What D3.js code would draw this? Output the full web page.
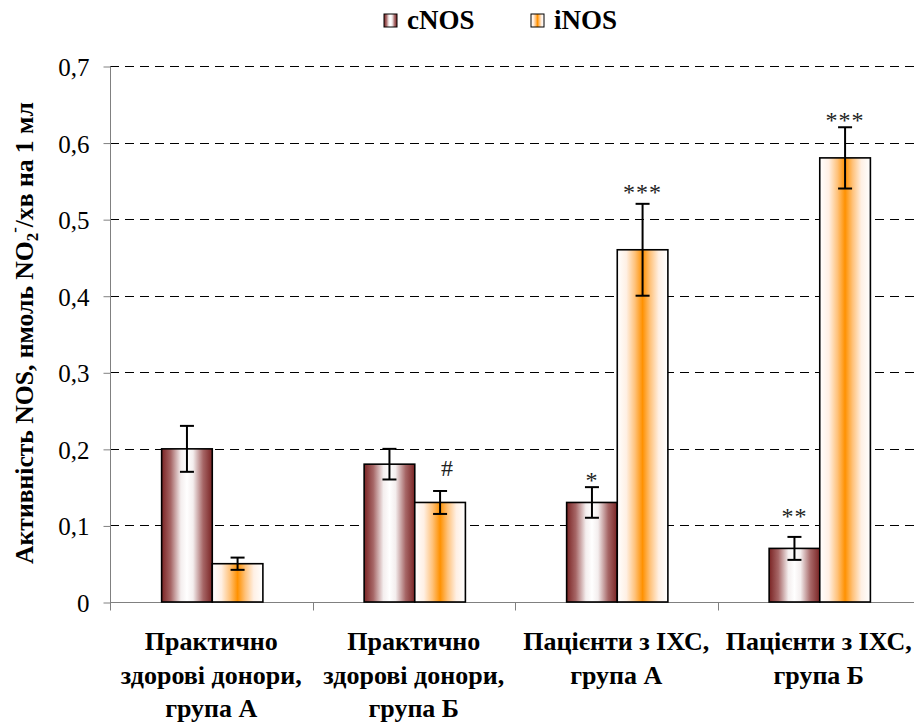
<!DOCTYPE html>
<html><head><meta charset="utf-8">
<script src="https://cdn.jsdelivr.net/npm/d3@7"></script>
<style>
html,body{margin:0;padding:0;background:#fff;}
svg{display:block;}
</style></head>
<body>
<svg id="chart" width="914" height="722" font-family="Liberation Serif, Times New Roman, serif"></svg>
<script>
// ---- data ----
const categories = [
  ["Практично", "здорові донори,", "група А"],
  ["Практично", "здорові донори,", "група Б"],
  ["Пацієнти з ІХС,", "група А"],
  ["Пацієнти з ІХС,", "група Б"]
];
const seriesNames = ["cNOS", "iNOS"];
const cNOS = [0.20, 0.18, 0.13, 0.07];
const iNOS = [0.05, 0.13, 0.46, 0.58];
const cNOSErr = [0.03, 0.02, 0.02, 0.015];
const iNOSErr = [0.008, 0.015, 0.06, 0.04];
const cNOSMark = ["", "", "*", "**"];
const iNOSMark = ["", "#", "***", "***"];
const cNOSMarkY = [null, null, 0.149, 0.102];
const iNOSMarkY = [null, 0.164, 0.525, 0.619];
const yTicks = [0, 0.1, 0.2, 0.3, 0.4, 0.5, 0.6, 0.7];
const yTickLabels = ["0", "0,1", "0,2", "0,3", "0,4", "0,5", "0,6", "0,7"];

(function(){
const FONT = "Liberation Serif";
const svg = d3.select("#chart");
const defs = svg.append("defs");
function grad(id, stops){
  const g = defs.append("linearGradient").attr("id", id)
    .attr("x1","0").attr("x2","1").attr("y1","0").attr("y2","0");
  stops.forEach(s => g.append("stop").attr("offset", s[0]).attr("stop-color", s[1]));
}
grad("gC", [[0,"#7a2424"],[0.18,"#a66666"],[0.38,"#f4eeee"],[0.5,"#ffffff"],[0.62,"#f4eeee"],[0.82,"#a66666"],[1,"#7a2424"]]);
grad("gI", [[0,"#ffffff"],[0.18,"#fff0e4"],[0.35,"#ffc27a"],[0.5,"#ff9100"],[0.65,"#ffc27a"],[0.82,"#fff0e4"],[1,"#ffffff"]]);
const fills = {cNOS: "url(#gC)", iNOS: "url(#gI)"};

const pL = 110, pR = 920, pT = 66, pB = 602;
const y = d3.scaleLinear().domain([0, 0.7]).range([pB, pT]);
const x0 = d3.scaleBand().domain(d3.range(categories.length)).range([pL, pR]).padding(0);
const bw = x0.bandwidth();
const x1 = d3.scaleBand().domain(seriesNames).range([bw*0.255, bw*0.755]).padding(0);

// gridlines
svg.append("g").selectAll("line").data(yTicks.filter(d => d > 0)).join("line")
  .attr("x1", pL).attr("x2", pR)
  .attr("y1", d => Math.round(y(d)) + 0.5).attr("y2", d => Math.round(y(d)) + 0.5)
  .attr("stroke", "#000").attr("stroke-width", 1).attr("stroke-dasharray", "9,6");

// y axis
const yAxis = d3.axisLeft(y).tickValues(yTicks).tickFormat((d,i) => yTickLabels[i]).tickSize(7).tickPadding(14);
const gy = svg.append("g").attr("transform", `translate(${pL + 0.5},0.5)`).call(yAxis)
  .attr("font-family", FONT).attr("font-size", 25);
gy.select(".domain").attr("stroke", "#808080").attr("d", `M0,${pT}V${pB}`);
gy.selectAll(".tick line").attr("stroke", "#808080");
gy.selectAll(".tick text").attr("fill", "#000").attr("dy", "0.36em");

// x axis
const xg = svg.append("g").attr("transform", `translate(0,${pB + 0.5})`);
xg.append("line").attr("x1", pL).attr("x2", pR).attr("stroke", "#808080");
xg.selectAll("line.t").data(d3.range(categories.length + 1)).join("line").attr("class","t")
  .attr("x1", d => Math.round(pL + d*bw) + 0.5).attr("x2", d => Math.round(pL + d*bw) + 0.5)
  .attr("y1", 0).attr("y2", 8).attr("stroke", "#808080");

// data records
const recs = [];
categories.forEach((c, i) => {
  recs.push({cat: i, s: "cNOS", v: cNOS[i], e: cNOSErr[i], m: cNOSMark[i], my: cNOSMarkY[i]});
  recs.push({cat: i, s: "iNOS", v: iNOS[i], e: iNOSErr[i], m: iNOSMark[i], my: iNOSMarkY[i]});
});
const bx = d => x0(d.cat) + x1(d.s);
const bwid = x1.bandwidth();

// bars
svg.append("g").selectAll("rect").data(recs).join("rect")
  .attr("x", d => bx(d)).attr("width", bwid)
  .attr("y", d => y(d.v)).attr("height", d => y(0) - y(d.v))
  .attr("fill", d => fills[d.s]).attr("stroke", "#000").attr("stroke-width", 1.6);

// error bars
const eg = svg.append("g").attr("stroke", "#000").attr("stroke-width", 2);
recs.forEach(d => {
  const cx = bx(d) + bwid/2;
  eg.append("line").attr("x1", cx).attr("x2", cx).attr("y1", y(d.v + d.e)).attr("y2", y(d.v - d.e));
  eg.append("line").attr("x1", cx - 7).attr("x2", cx + 7).attr("y1", y(d.v + d.e)).attr("y2", y(d.v + d.e));
  eg.append("line").attr("x1", cx - 7).attr("x2", cx + 7).attr("y1", y(d.v - d.e)).attr("y2", y(d.v - d.e));
});

// significance marks
svg.append("g").attr("font-family", FONT).selectAll("text").data(recs.filter(d => d.m)).join("text")
  .attr("x", d => bx(d) + bwid/2 + (d.m === "#" ? 7 : 0)).attr("y", d => y(d.my))
  .attr("text-anchor", "middle").attr("font-size", 24).attr("fill", "#222")
  .attr("letter-spacing", d => d.m === "#" ? 0 : 1)
  .text(d => d.m);

// category labels
const cl = svg.append("g").attr("font-family", FONT).attr("font-weight", "bold").attr("font-size", 26).attr("text-anchor", "middle");
categories.forEach((lines, i) => {
  const t = cl.append("text").attr("transform", `translate(${x0(i) + bw/2},0)`);
  lines.forEach((ln, k) => t.append("tspan").attr("x", 0).attr("y", 650 + k*33.5).text(ln));
});

// y-axis title
const yt = svg.append("text").attr("font-family", FONT)
  .attr("text-anchor", "middle").attr("font-weight", "bold").attr("font-size", 26);
yt.append("tspan").text("Активність NOS, нмоль NO");
yt.append("tspan").attr("font-size", 17).attr("dy", 5).text("2");
yt.append("tspan").attr("font-size", 17).attr("dy", -18).text("-");
yt.append("tspan").attr("dy", 13).text("/хв на 1 мл");
const len = yt.node().getComputedTextLength();
const sx = Math.min(1, 462 / len);
yt.attr("transform", `translate(33,333) rotate(-90) scale(${sx},1)`);

// legend
const lg = svg.append("g").attr("font-family", FONT);
const legX = [384, 531];
seriesNames.forEach((s, i) => {
  lg.append("rect").attr("x", legX[i]).attr("y", 14).attr("width", 13).attr("height", 13)
    .attr("fill", fills[s]).attr("stroke", "#000").attr("stroke-width", 1);
  lg.append("text").attr("x", legX[i] + 23).attr("y", 29).attr("font-weight", "bold")
    .attr("font-size", 27).text(s);
});
})();
</script>
</body></html>
